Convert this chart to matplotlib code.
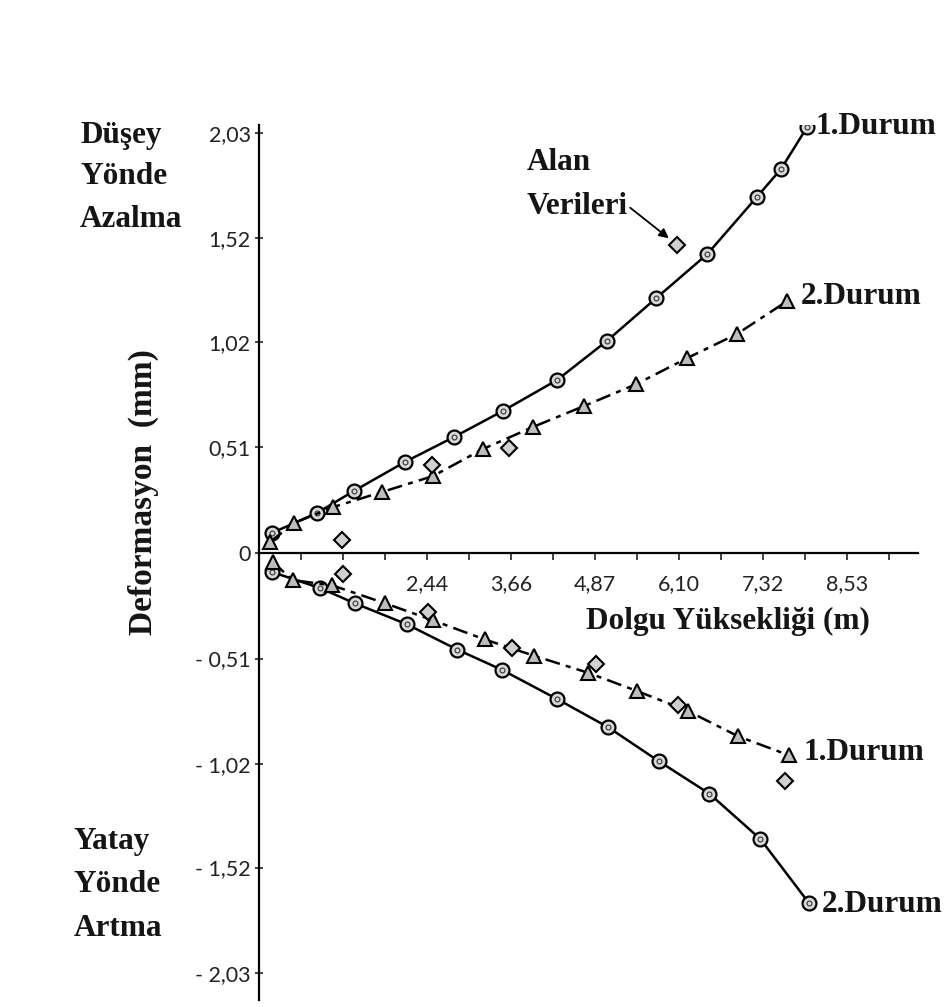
import matplotlib
matplotlib.use("Agg")
import matplotlib.pyplot as plt

plt.rcParams['font.family'] = ['Lato', 'DejaVu Sans']

# data (x: fill height m, y: deformation mm)
up1_x = [0.19, 0.84, 1.38, 2.12, 2.83, 3.54, 4.33, 5.05, 5.77, 6.51, 7.23, 7.58, 7.96]
up1_y = [0.097, 0.193, 0.300, 0.440, 0.560, 0.686, 0.836, 1.024, 1.232, 1.444, 1.720, 1.855, 2.058]

up2_x = [0.16, 0.51, 1.08, 1.79, 2.53, 3.25, 3.98, 4.72, 5.48, 6.22, 6.94, 7.67]
up2_y = [0.053, 0.145, 0.222, 0.295, 0.372, 0.502, 0.609, 0.710, 0.816, 0.942, 1.058, 1.217]

up_field_x = [1.21, 2.51, 3.63, 6.07]
up_field_y = [0.063, 0.425, 0.507, 1.488]

low1_x = [0.20, 0.49, 1.06, 1.83, 2.53, 3.28, 3.99, 4.78, 5.49, 6.23, 6.96, 7.70]
low1_y = [-0.044, -0.131, -0.156, -0.243, -0.326, -0.418, -0.496, -0.579, -0.667, -0.764, -0.886, -0.978]

low2_x = [0.19, 0.89, 1.39, 2.15, 2.88, 3.53, 4.33, 5.07, 5.81, 6.54, 7.28, 7.99]
low2_y = [-0.092, -0.170, -0.243, -0.345, -0.467, -0.565, -0.706, -0.842, -1.007, -1.163, -1.382, -1.693]

low_field_x = [1.22, 2.46, 3.68, 4.89, 6.09, 7.64]
low_field_y = [-0.102, -0.287, -0.457, -0.535, -0.735, -1.100]

x_ticks = [0.61 * i for i in range(1, 16)]
x_labels = {4: "2,44", 6: "3,66", 8: "4,87", 10: "6,10", 12: "7,32", 14: "8,53"}
y_ticks = [2.03, 1.52, 1.02, 0.51, 0, -0.51, -1.02, -1.52, -2.03]
y_labels = ["2,03", "1,52", "1,02", "0,51", "0", "- 0,51", "- 1,02", "- 1,52", "- 2,03"]

W, H = 946, 1007
fig = plt.figure(figsize=(W / 100, H / 100), dpi=100)
ax = fig.add_axes([259 / W, 7 / H, (918 - 259) / W, (1000 - 125) / H])
ax.set_xlim(0, 9.57)
ax.set_ylim(-2.16, 2.068)

for s in ['top', 'right']:
    ax.spines[s].set_visible(False)
ax.spines['bottom'].set_position(('data', 0))
ax.spines['left'].set_linewidth(1.6)
ax.spines['bottom'].set_linewidth(1.6)

ax.set_xticks(x_ticks)
ax.set_xticklabels([x_labels.get(i + 1, "") for i in range(len(x_ticks))])
ax.set_yticks(y_ticks)
ax.set_yticklabels(y_labels)
ax.tick_params(axis='x', direction='out', length=5, width=1.2, pad=10, labelsize=15.5, colors='#222222')
ax.tick_params(axis='y', direction='inout', length=6, width=1.2, pad=3, labelsize=15.5, colors='#222222')

dash = (0, (6, 2.5, 2, 2.5))
circ = dict(marker='o', ms=10, mfc='#d8d8d8', mec='black', mew=1.6)
tri = dict(marker='^', ms=10, mfc='#bdbdbd', mec='black', mew=1.5)
dia = dict(marker='D', ms=8, mfc='#d0d0d0', mec='black', mew=1.5, ls='none')

ax.plot(up1_x, up1_y, color='black', lw=1.8, **circ)
ax.plot(up1_x, up1_y, ls='none', marker='o', ms=3.5, mfc='none', mec='#333333', mew=0.8)
ax.plot(up2_x, up2_y, color='black', lw=1.8, ls=dash, **tri)
ax.plot(low2_x, low2_y, color='black', lw=1.8, **circ)
ax.plot(low2_x, low2_y, ls='none', marker='o', ms=3.5, mfc='none', mec='#333333', mew=0.8)
ax.plot(low1_x, low1_y, color='black', lw=1.8, ls=dash, **tri)
ax.plot(up_field_x, up_field_y, **dia)
ax.plot(low_field_x, low_field_y, **dia)

serif = dict(family='Liberation Serif', fontweight='bold', color='#151515')


def ftext(x, y, s, size=22.5, **kw):
    fig.text(x / W, 1 - y / H, s, fontsize=size, va='center', **serif, **kw)


for i, s in enumerate(["Düşey", "Yönde", "Azalma"]):
    ftext(80, 135 + 42 * i, s)
for i, s in enumerate(["Yatay", "Yönde", "Artma"]):
    ftext(74, 842 + 43 * i, s)
for i, s in enumerate(["Alan", "Verileri"]):
    ftext(527, 163 + 44 * i, s)

ftext(815, 127, "1.Durum")
ftext(801, 296, "2.Durum")
ftext(803, 752, "1.Durum")
ftext(822, 905, "2.Durum")
ftext(586, 621, "Dolgu Yüksekliği (m)")
ftext(143, 492, "Deformasyon  (mm)", size=24, rotation=90, ha='center')

ax.annotate("", xy=(671 / W, 1 - 240 / H), xytext=(628 / W, 1 - 206 / H),
            xycoords='figure fraction', textcoords='figure fraction',
            arrowprops=dict(arrowstyle='-|>', color='black', lw=1.3, mutation_scale=14))

fig.savefig("out.png", dpi=100, facecolor='white')
